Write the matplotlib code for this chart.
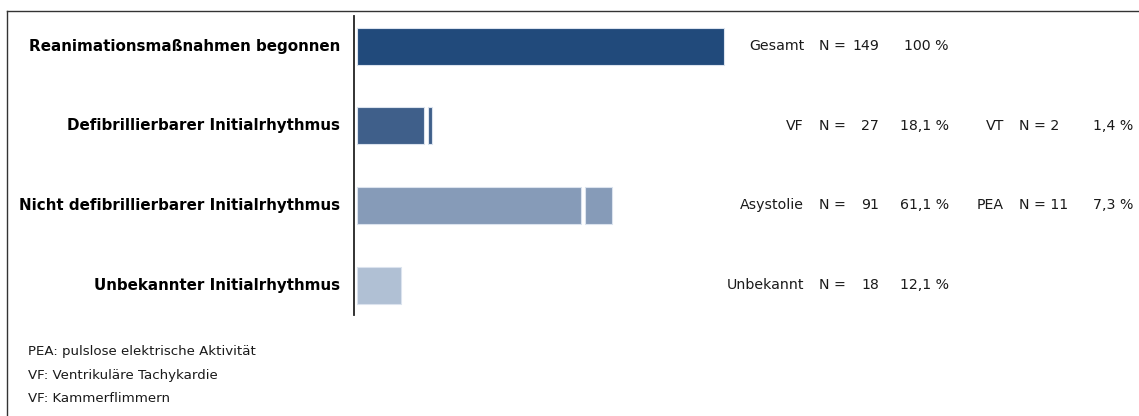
import matplotlib.pyplot as plt
import matplotlib.transforms as mtransforms

# Reanimation data (counts per group)
rows = ['Reanimationsmaßnahmen begonnen',
        'Defibrillierbarer Initialrhythmus',
        'Nicht defibrillierbarer Initialrhythmus',
        'Unbekannter Initialrhythmus']
first_names = ['Gesamt', 'VF', 'Asystolie', 'Unbekannt']
first_n = [149, 27, 91, 18]
first_pct = ['100 %', '18,1 %', '61,1 %', '12,1 %']
second_names = [None, 'VT', 'PEA', None]
second_n = [None, 2, 11, None]
second_pct = [None, '1,4 %', '7,3 %', None]
footnotes = ['PEA: pulslose elektrische Aktivität',
             'VF: Ventrikuläre Tachykardie',
             'VF: Kammerflimmern']

colors = ['#214a7b', '#3f5f8a', '#869bb8', '#b0c0d4']

W, H = 1139, 416
fig = plt.figure(figsize=(W / 100, H / 100), dpi=100)

# axes: left spine at x=354px, top 16px, bottom 315px
ax = fig.add_axes([354 / W, 1 - 315 / H, 1 - 354 / W, (315 - 16) / H])
px_per_n = 367 / 149
ax.set_xlim(-3 / px_per_n, (W - 354 - 3) / px_per_n)
row_step = 79.7
ax.set_ylim((315 - 46) / row_step, (16 - 46) / row_step)
gap = 4 / px_per_n
bar_h = 37 / row_step

for i in range(len(rows)):
    ax.barh(i, first_n[i], height=bar_h, left=0, color=colors[i],
            edgecolor='#dbe3ee', linewidth=0.8)
    if second_n[i] is not None:
        ax.barh(i, second_n[i], height=bar_h, left=first_n[i] + gap,
                color=colors[i], edgecolor='#dbe3ee', linewidth=0.8)

for side in ['top', 'right', 'bottom']:
    ax.spines[side].set_visible(False)
ax.spines['left'].set_linewidth(1.3)
ax.spines['left'].set_color('#222222')
ax.set_xticks([])
ax.set_yticks([])

trans = mtransforms.blended_transform_factory(fig.transFigure, ax.transData)
def fx(px):
    return px / W

txt = dict(fontsize=10.2, color='#1a1a1a', va='center', transform=trans)
for i, row in enumerate(rows):
    ax.text(fx(340), i, row, ha='right', fontsize=10.9, fontweight='bold',
            va='center', transform=trans, color='black')
    ax.text(fx(804), i, first_names[i], ha='right', **txt)
    ax.text(fx(819), i, 'N =', ha='left', **txt)
    ax.text(fx(879), i, str(first_n[i]), ha='right', **txt)
    ax.text(fx(949), i, first_pct[i], ha='right', **txt)
    if second_n[i] is not None:
        ax.text(fx(1004), i, second_names[i], ha='right', **txt)
        ax.text(fx(1019), i, 'N = ' + str(second_n[i]), ha='left', **txt)
        ax.text(fx(1133), i, second_pct[i], ha='right', **txt)

for k, note in enumerate(footnotes):
    fig.text(fx(28), 1 - (352 + 23.5 * k) / H, note, fontsize=9.6,
             color='#1a1a1a', va='center', ha='left')

# frame lines at top and left
fig.add_artist(plt.Line2D([7 / W, 1], [1 - 10.5 / H, 1 - 10.5 / H],
                          transform=fig.transFigure, color='#333333', lw=1))
fig.add_artist(plt.Line2D([7 / W, 7 / W], [1 - 10.5 / H, 0],
                          transform=fig.transFigure, color='#333333', lw=1))

fig.savefig('out.png', dpi=100)
